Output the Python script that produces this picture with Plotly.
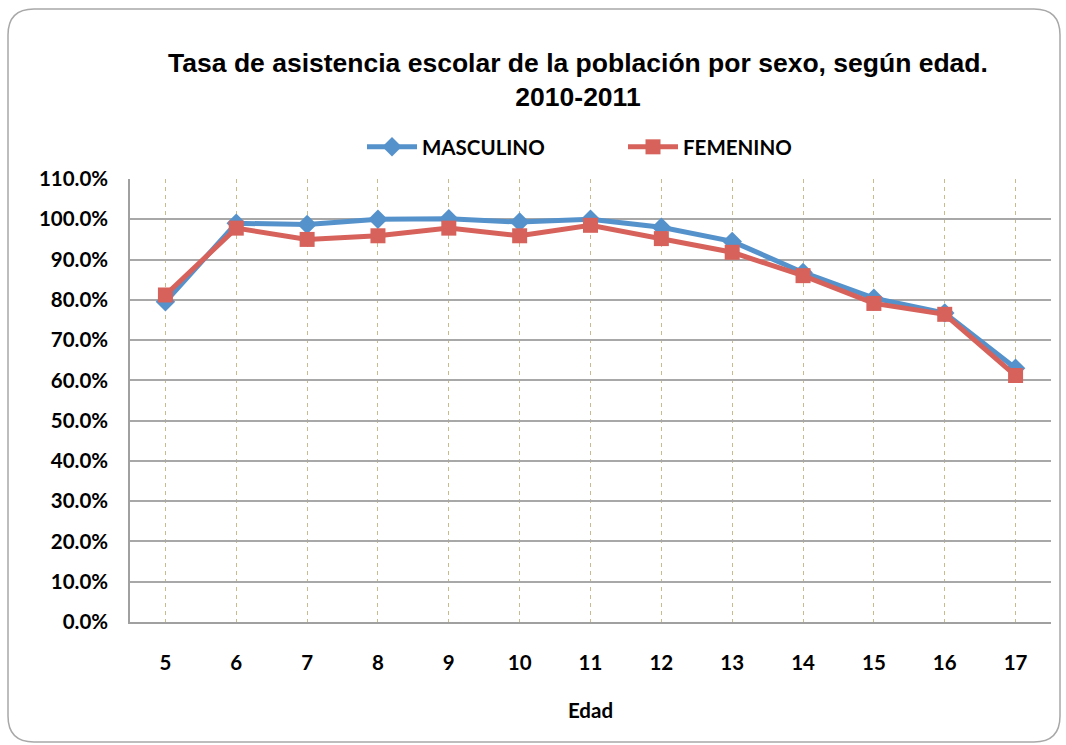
import plotly.graph_objects as go

edades = ["5", "6", "7", "8", "9", "10", "11", "12", "13", "14", "15", "16", "17"]
masculino = [0.795, 0.990, 0.987, 1.000, 1.001, 0.993, 1.000, 0.980, 0.945, 0.868, 0.804, 0.767, 0.630]
femenino = [0.812, 0.978, 0.950, 0.959, 0.978, 0.959, 0.985, 0.952, 0.918, 0.860, 0.791, 0.764, 0.612]
y_ticks = [i / 10 for i in range(0, 12)]

W, H = 1066, 745
L, R, T, B = 130, 15, 179, 123
pw, ph = W - L - R, H - T - B

def px(x):
    return (x - L) / pw

def py(y):
    return (H - B - y) / ph

fig = go.Figure()
fig.add_trace(go.Scatter(
    x=edades, y=masculino, name="MASCULINO", mode="lines+markers",
    line=dict(color="#5592CC", width=5),
    marker=dict(symbol="diamond", size=15, color="#5592CC"),
))
fig.add_trace(go.Scatter(
    x=edades, y=femenino, name="FEMENINO", mode="lines+markers",
    line=dict(color="#D6625B", width=5),
    marker=dict(symbol="square", size=15, color="#D6625B"),
))

# rounded outer border
x0, x1, y0, y1, r = 8, 1060, 9, 742, 26
path = (
    f"M {px(x0+r)},{py(y0)} L {px(x1-r)},{py(y0)} Q {px(x1)},{py(y0)} {px(x1)},{py(y0+r)} "
    f"L {px(x1)},{py(y1-r)} Q {px(x1)},{py(y1)} {px(x1-r)},{py(y1)} "
    f"L {px(x0+r)},{py(y1)} Q {px(x0)},{py(y1)} {px(x0)},{py(y1-r)} "
    f"L {px(x0)},{py(y0+r)} Q {px(x0)},{py(y0)} {px(x0+r)},{py(y0)} Z"
)
fig.add_shape(type="path", path=path, xref="paper", yref="paper",
              line=dict(color="#A8A8A8", width=1.5), layer="below")

tick_font = dict(family="Lato, Open Sans", size=20.5, color="black", weight="bold")

fig.update_layout(
    width=W, height=H,
    margin=dict(l=L, r=R, t=T, b=B),
    paper_bgcolor="white", plot_bgcolor="white",
    title=dict(
        text="Tasa de asistencia escolar de la población por sexo, según edad.<br>2010-2011",
        x=578 / W, xanchor="center", y=1 - 72 / H, yanchor="top",
        font=dict(family="Liberation Sans, Arial", size=26.5, color="black", weight="bold"),
    ),
    legend=dict(
        orientation="h", x=px(362), xanchor="left", y=py(147), yanchor="middle",
        font=dict(family="Lato, Open Sans", size=20.5, color="black", weight="bold"),
        itemwidth=50, entrywidth=196,
    ),
    showlegend=True,
    hovermode=False,
)
fig.update_xaxes(
    type="category", range=[-0.5, 12.5],
    showgrid=True, gridcolor="#C8BC8E", griddash="4px,4px", gridwidth=1.2,
    showline=True, linecolor="#A0A0A0", linewidth=1.5,
    ticks="", ticklabelstandoff=22,
    tickfont=tick_font,
    title=dict(text="Edad", standoff=30, font=tick_font),
    zeroline=False,
)
fig.update_yaxes(
    range=[0, 1.1], tickvals=y_ticks, tickformat=".1%",
    showgrid=True, gridcolor="#A8A8A8", gridwidth=1.5,
    showline=True, linecolor="#A0A0A0", linewidth=1.5,
    ticks="", ticklabelstandoff=16,
    tickfont=tick_font,
    zeroline=False,
)

fig.write_html("out.html", config={"displayModeBar": False},
               post_script="document.body.style.margin='0';")
